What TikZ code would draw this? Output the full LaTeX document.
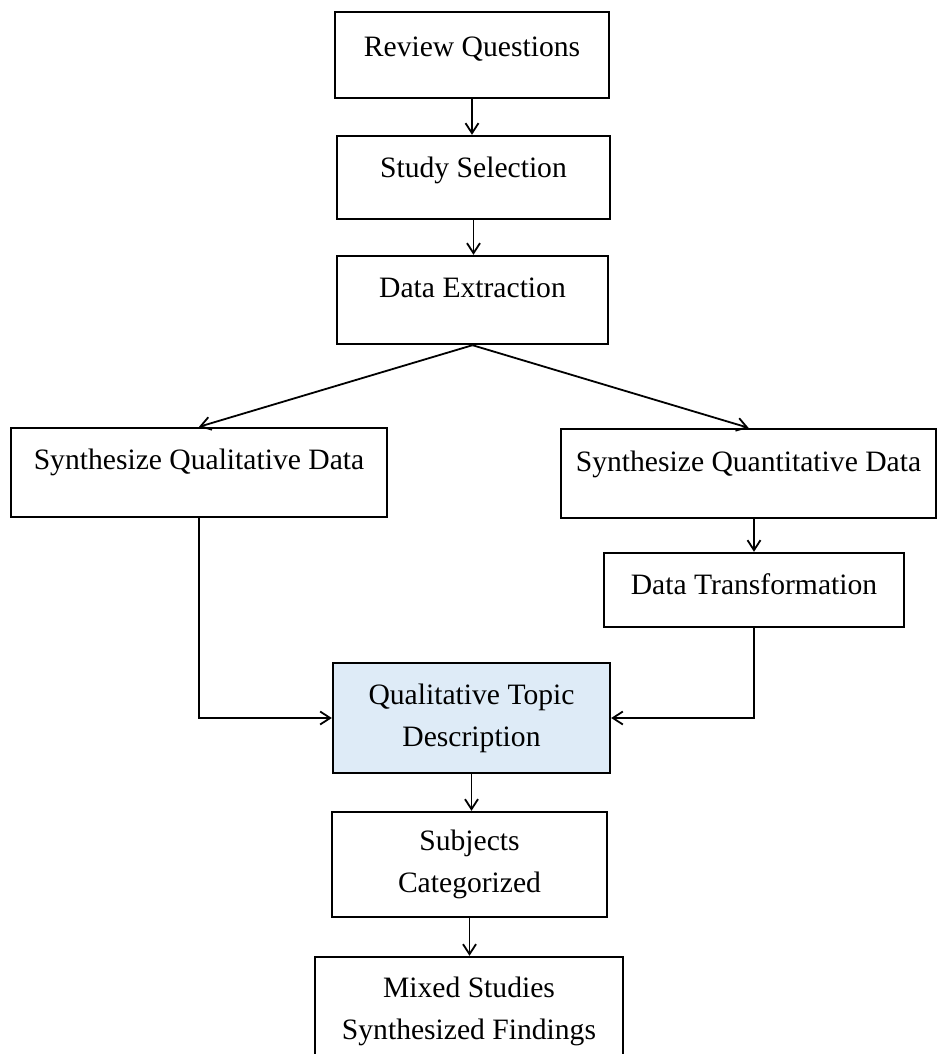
\documentclass[tikz,border=0pt]{standalone}
\usepackage{fontspec}
\setmainfont{Liberation Serif}
\usetikzlibrary{arrows.meta}
\definecolor{topicblue}{RGB}{222,235,247}
\begin{document}
\begin{tikzpicture}[x = 0.5pt, y = -0.5pt,
  box/.style = {draw, line width = 1.2pt, align = center, inner sep = 0pt, font = \fontsize{14.8}{21}\selectfont},
  txtup/.style = {text height = 10pt, text depth = #1},
  arr/.style = {-{Straight Barb[length = 5pt, width = 6.5pt]}, line width = 0.9pt}]
\useasboundingbox (0,0) rectangle (938,1054);
\clip (0,0) rectangle (938,1054);
\node [box, txtup = 8.3pt, minimum width = 137pt, minimum height = 43pt] (rq) at (472,55) {Review Questions};
\node [box, txtup = 9.8pt, minimum width = 136.5pt, minimum height = 41.5pt] (ss) at (473.5,177.5) {Study Selection};
\node [box, txtup = 12.3pt, minimum width = 135.5pt, minimum height = 44pt] (de) at (472.5,300) {Data Extraction};
\node [box, txtup = 12.8pt, minimum width = 188pt, minimum height = 44.5pt] (sql) at (199,472.5) {Synthesize Qualitative Data};
\node [box, txtup = 11.8pt, minimum width = 187.5pt, minimum height = 44.5pt] (sqn) at (748.5,473.5) {Synthesize Quantitative Data};
\node [box, txtup = 5.3pt, minimum width = 150pt, minimum height = 37pt] (dt) at (754,590) {Data Transformation};
\node [box, fill = topicblue, minimum width = 138.5pt, minimum height = 55pt] (qtd) at (471.5,718) {Qualitative Topic\\Description};
\node [box, minimum width = 137.5pt, minimum height = 52.5pt] (sc) at (469.5,864.5) {Subjects\\Categorized};
\node [box, minimum width = 154pt, minimum height = 54pt] (ms) at (469,1011) {Mixed Studies\\Synthesized Findings};
\draw [arr] (rq.south) -- (rq.south |- ss.north);
\draw [arr] (ss.south) -- (ss.south |- de.north);
\draw [arr] (de.south) -- (sql.north);
\draw [arr] (de.south) -- (sqn.north);
\draw [arr] (dt.north |- sqn.south) -- (dt.north);
\draw [arr] (sql.south) |- (qtd.west);
\draw [arr] (dt.south) |- (qtd.east);
\draw [arr] (qtd.south) -- (qtd.south |- sc.north);
\draw [arr] (sc.south) -- (sc.south |- ms.north);
\end{tikzpicture}
\end{document}
